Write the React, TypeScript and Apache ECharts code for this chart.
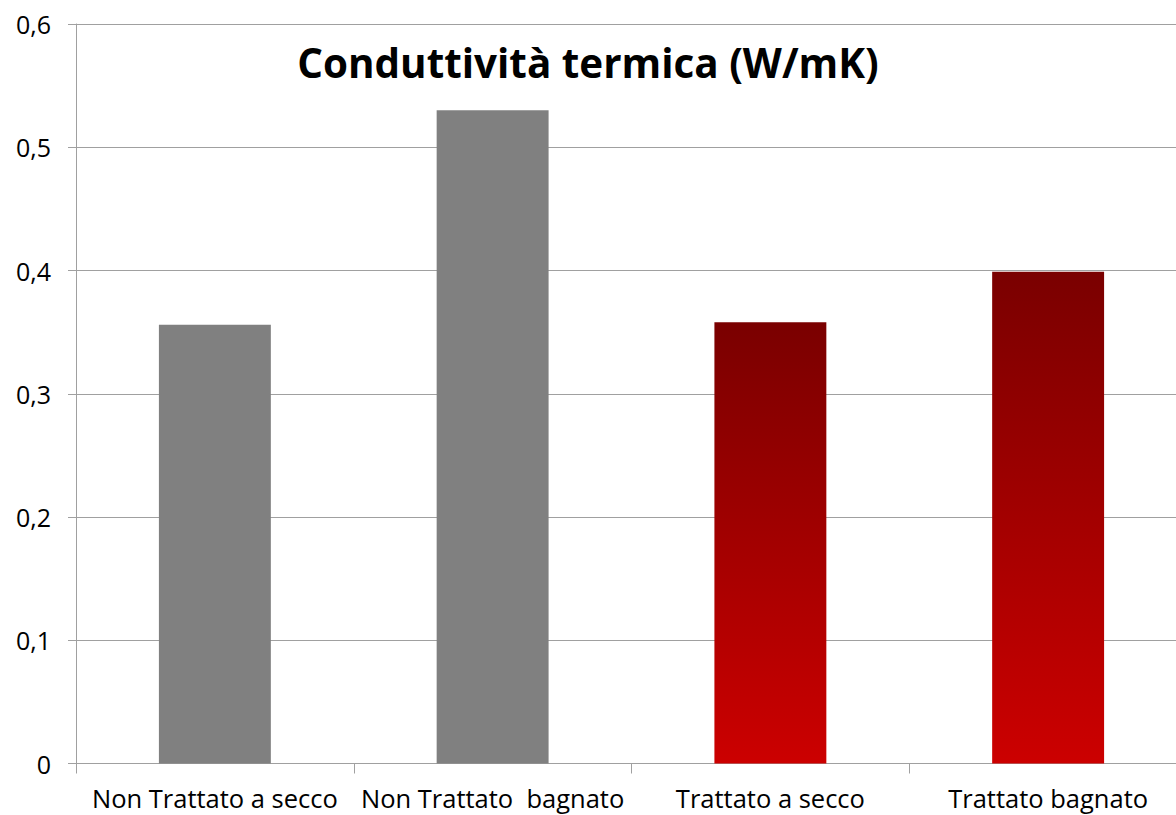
import React, { useEffect, useRef } from "react";
import * as echarts from "echarts";

const categories = ["Non Trattato a secco", "Non Trattato  bagnato", "Trattato a secco", "Trattato bagnato"];
const values = [0.356, 0.530, 0.358, 0.399];
const treated = [false, false, true, true];
const yTicks = [0, 0.1, 0.2, 0.3, 0.4, 0.5, 0.6];
const titleText = "Conduttività termica (W/mK)";

const FONT = "'Open Sans', sans-serif";

export default function App() {
  const ref = useRef<HTMLDivElement>(null);
  useEffect(() => {
    if (!ref.current) return;
    const chart = echarts.init(ref.current, null, { renderer: "svg" });
    const redGrad = new echarts.graphic.LinearGradient(0, 0, 0, 1, [
      { offset: 0, color: "#7a0000" },
      { offset: 1, color: "#cc0000" },
    ]);
    chart.setOption({
      animation: false,
      backgroundColor: "#ffffff",
      title: {
        text: titleText,
        left: 583,
        textAlign: "center",
        top: 37,
        textStyle: { fontFamily: FONT, fontSize: 40.4, fontWeight: "bold", color: "#000" },
      },
      grid: { left: 76, right: 0, top: 24, bottom: 51.5, containLabel: false },
      xAxis: {
        type: "category",
        data: categories,
        boundaryGap: true,
        axisLine: { show: true, lineStyle: { color: "#a0a0a0", width: 1 } },
        axisTick: { show: true, alignWithLabel: false, length: 10, lineStyle: { color: "#a0a0a0" } },
        axisLabel: {
          interval: 0,
          margin: 21,
          fontFamily: FONT,
          fontSize: 25.5,
          color: "#000",
        },
        splitLine: { show: false },
      },
      yAxis: {
        type: "value",
        min: yTicks[0],
        max: yTicks[yTicks.length - 1],
        interval: 0.1,
        axisLine: { show: true, lineStyle: { color: "#a0a0a0", width: 1 } },
        axisTick: { show: true, length: 8, lineStyle: { color: "#a0a0a0" } },
        axisLabel: {
          margin: 25,
          fontFamily: FONT,
          fontSize: 25,
          color: "#000",
          formatter: (v: number) => (Math.round(v * 10) / 10).toString().replace(".", ","),
        },
        splitLine: { show: true, lineStyle: { color: "#a0a0a0", width: 1 } },
      },
      series: [
        {
          type: "bar",
          barWidth: "40.3%",
          data: values.map((v, i) => ({
            value: v,
            itemStyle: { color: treated[i] ? redGrad : "#808080" },
          })),
        },
      ],
    });
    return () => chart.dispose();
  }, []);
  return (
    <div
      ref={ref}
      style={{ position: "fixed", left: 0, top: 0, width: 1187, height: 815, background: "#fff" }}
    />
  );
}
